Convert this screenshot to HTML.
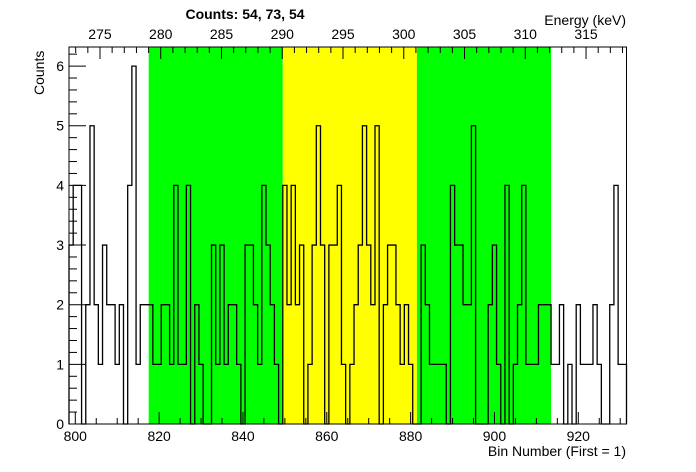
<!DOCTYPE html>
<html><head><meta charset="utf-8"><style>
html,body{margin:0;padding:0;background:#fff;}
svg{display:block;font-family:"Liberation Sans",Arial,sans-serif;}
</style></head><body>
<svg id="chart" width="696" height="472" viewBox="0 0 696 472" xmlns="http://www.w3.org/2000/svg">
<g id="bands"></g><g id="hist"></g><g id="axes"></g>
<text x="245" y="19" text-anchor="middle" font-size="14" font-weight="bold">Counts:   54,   73,   54</text>
<text x="626" y="25" text-anchor="end" font-size="14">Energy (keV)</text>
<text x="626" y="456" text-anchor="end" font-size="14">Bin Number (First = 1)</text>
<text transform="translate(44,95) rotate(-90)" text-anchor="start" font-size="14">Counts</text>
</svg>
<script>
const binStart = 798.5;
const counts = [3,4,4,0,2,5,2,1,3,2,2,1,2,0,4,6,1,2,2,
 2,1,1,2,2,1,4,1,1,4,0,2,1,0,0,3,1,3,1,2,2,1,0,3,3,2,1,4,3,2,1,0,
 4,2,4,2,3,0,1,3,5,3,0,3,3,4,1,0,1,2,3,5,3,2,5,0,2,3,3,2,1,2,1,0,
 0,3,2,1,1,1,1,0,4,3,3,2,2,5,0,0,0,2,3,1,0,4,0,1,2,4,1,1,1,2,2,2,
 1,1,2,0,1,0,2,1,1,1,2,1,0,0,2,4,1,1];
const regions = [[817.5,849.5,"#00ff00"],[849.5,881.5,"#ffff00"],[881.5,913.5,"#00ff00"]];
const xTicks = [800,820,840,860,880,900,920];
const yTicks = [0,1,2,3,4,5,6];
const eTicks = [275,280,285,290,295,300,305,310,315];
const xMin = 798.5, xMax = 931.5, yMax = 6.32;
const L=69,R=626.5,T=47,B=424;
const NS="http://www.w3.org/2000/svg";
const sx = v => L + (v - xMin) / (xMax - xMin) * (R - L);
const sy = v => B - v / yMax * (B - T);
const eMin = 272.45, eMax = 318.33;
const se = e => L + (e - eMin) / (eMax - eMin) * (R - L);
function mk(tag, attrs, parent){const e=document.createElementNS(NS,tag);for(const k in attrs)e.setAttribute(k,attrs[k]);parent.appendChild(e);return e;}
const bands=document.getElementById('bands'), hist=document.getElementById('hist'), axes=document.getElementById('axes');
regions.forEach((r,i)=>{
  const el=mk('rect',{x:sx(r[0]),y:T,width:sx(r[1])-sx(r[0]),height:B-T,fill:r[2]},bands);
  
  
});
let d='M'+sx(binStart)+','+sy(0);
counts.forEach((c,i)=>{const x0=sx(binStart+i),x1=sx(binStart+i+1);d+=' L'+x0+','+sy(c)+' L'+x1+','+sy(c);});
d+=' L'+sx(binStart+counts.length)+','+sy(0);
const p=mk('path',{d:d,fill:'none',stroke:'#000','stroke-width':1.3},hist);


const fr=mk('rect',{x:L,y:T,width:R-L,height:B-T,fill:'none',stroke:'#000','stroke-width':1},axes);


// bottom ticks
for(let v=800; v<=930; v+=5){const x=sx(v);const len=(v%20===0)?12:6;mk('line',{x1:x,y1:B,x2:x,y2:B-len,stroke:'#000'},axes);}
xTicks.forEach(v=>{const t=mk('text',{x:sx(v),y:441,'text-anchor':'middle','font-size':14},axes);t.textContent=v;
  
  });
// y ticks
for(let k=0;k<=31;k++){const v=k*0.2;if(v>yMax)break;const y=sy(v);const len=(k%5===0)?17:8;mk('line',{x1:L,y1:y,x2:L+len,y2:y,stroke:'#000'},axes);}
yTicks.forEach(v=>{const t=mk('text',{x:64,y:sy(v)+5,'text-anchor':'end','font-size':14},axes);t.textContent=v;
  
  });
// top energy axis
for(let e=273;e<=318;e++){const x=se(e);const len=(e%5===0)?12:6;mk('line',{x1:x,y1:T,x2:x,y2:T+len,stroke:'#000'},axes);}
eTicks.forEach(v=>{const t=mk('text',{x:se(v),y:39,'text-anchor':'middle','font-size':14},axes);t.textContent=v;
  
  });
</script>
</body></html>
